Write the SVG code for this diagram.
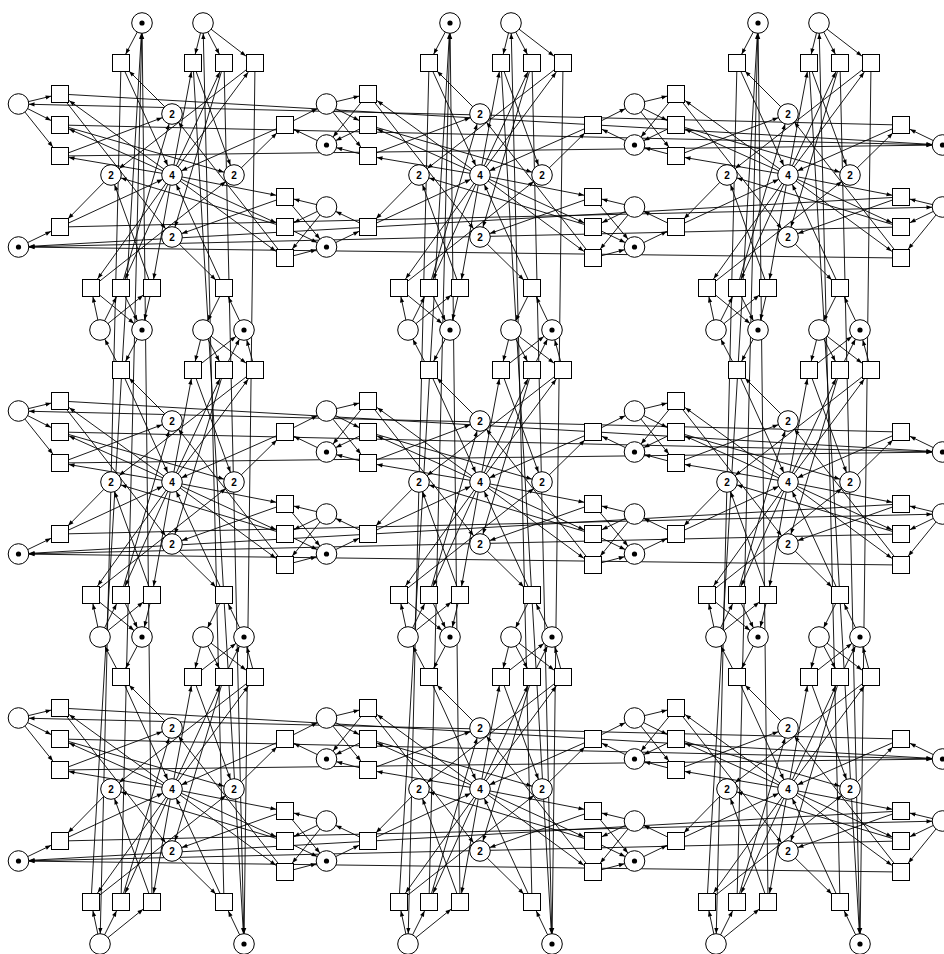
<svg xmlns="http://www.w3.org/2000/svg" width="944" height="954" viewBox="0 0 944 954">
<style>
.e path{fill:none;stroke:#000;stroke-width:0.9}
.p{marker-end:url(#mp)}
.a{marker-end:url(#ma)}
.b{marker-end:url(#mb)}
.c{marker-end:url(#mc)}
text{font-family:"Liberation Sans",Arial,sans-serif;font-size:10px;font-weight:bold;text-anchor:middle;fill:#000}
</style>
<defs>
<marker id="mp" markerUnits="userSpaceOnUse" viewBox="-20 -5 20 10" markerWidth="20" markerHeight="10" refX="0" refY="0" orient="auto"><path d="M-16,-2.1L-10.4,0L-16,2.1z" fill="#000"/></marker>
<marker id="ma" markerUnits="userSpaceOnUse" viewBox="-20 -5 20 10" markerWidth="20" markerHeight="10" refX="0" refY="0" orient="auto"><path d="M-14.6,-2.1L-9,0L-14.6,2.1z" fill="#000"/></marker>
<marker id="mb" markerUnits="userSpaceOnUse" viewBox="-20 -5 20 10" markerWidth="20" markerHeight="10" refX="0" refY="0" orient="auto"><path d="M-15.6,-2.1L-10,0L-15.6,2.1z" fill="#000"/></marker>
<marker id="mc" markerUnits="userSpaceOnUse" viewBox="-20 -5 20 10" markerWidth="20" markerHeight="10" refX="0" refY="0" orient="auto"><path d="M-17.1,-2.1L-11.5,0L-17.1,2.1z" fill="#000"/></marker>
<rect id="sq" x="-8.5" y="-8.5" width="17" height="17" fill="#fff" stroke="#000" stroke-width="1"/>
<circle id="pe" r="10.3" fill="#fff" stroke="#000" stroke-width="1"/>
<g id="pm"><circle r="10.3" fill="#fff" stroke="#000" stroke-width="1"/><circle r="2.6" fill="#000"/></g>
<g id="k" class="e">
<path class="a" d="M18.5 104L60 94"/>
<path class="b" d="M18.5 104L60 125"/>
<path class="c" d="M18.5 104L60 156"/>
<path class="b" d="M326.5 145L285 125"/>
<path class="b" d="M18.5 247L60 227"/>
<path class="a" d="M326.5 207L285 197"/>
<path class="b" d="M326.5 207L285 227"/>
<path class="c" d="M326.5 207L285 258"/>
<path class="b" d="M142 23L121 63"/>
<path class="a" d="M203 23L193 63"/>
<path class="b" d="M203 23L224 63"/>
<path class="c" d="M203 23L255 63"/>
<path class="a" d="M100 330L91 288"/>
<path class="b" d="M100 330L121 288"/>
<path class="c" d="M100 330L152 288"/>
<path class="b" d="M244 330L224 288"/>
<path class="c" d="M172 175L60 94"/>
<path class="b" d="M172 175L60 125"/>
<path class="a" d="M172 175L60 156"/>
<path class="a" d="M172 175L193 63"/>
<path class="b" d="M172 175L224 63"/>
<path class="c" d="M172 175L255 63"/>
<path class="a" d="M172 175L285 197"/>
<path class="b" d="M172 175L285 227"/>
<path class="c" d="M172 175L285 258"/>
<path class="c" d="M172 175L91 288"/>
<path class="b" d="M172 175L121 288"/>
<path class="a" d="M172 175L152 288"/>
<path class="p" d="M60 94L172 237"/>
<path class="p" d="M60 125L234 175"/>
<path class="p" d="M60 156L172 114"/>
<path class="p" d="M193 63L234 175"/>
<path class="p" d="M224 63L172 237"/>
<path class="p" d="M255 63L111 175"/>
<path class="p" d="M285 197L172 237"/>
<path class="p" d="M285 227L111 175"/>
<path class="p" d="M285 258L172 114"/>
<path class="p" d="M91 288L234 175"/>
<path class="p" d="M121 288L172 114"/>
<path class="p" d="M152 288L111 175"/>
<path class="c" d="M111 175L60 227"/>
<path class="c" d="M172 114L121 63"/>
<path class="c" d="M234 175L285 125"/>
<path class="c" d="M172 237L224 288"/>
<path class="p" d="M60 227L172 175"/>
<path class="p" d="M121 63L172 175"/>
<path class="p" d="M285 125L172 175"/>
<path class="p" d="M224 288L172 175"/>
</g>
<g id="oL" class="e">
<path class="p" d="M60 94L18.5 145"/>
<path class="p" d="M60 125L18.5 145"/>
<path class="p" d="M60 156L18.5 145"/>
<path class="p" d="M60 227L18.5 207"/>
</g>
<g id="wL" class="e">
<path class="p" d="M60 94L942.5 145"/>
<path class="p" d="M60 125L942.5 145"/>
<path class="p" d="M60 156L942.5 145"/>
<path class="p" d="M60 227L942.5 207"/>
</g>
<g id="oR" class="e">
<path class="p" d="M285 125L326.5 104"/>
<path class="p" d="M285 197L326.5 247"/>
<path class="p" d="M285 227L326.5 247"/>
<path class="p" d="M285 258L326.5 247"/>
</g>
<g id="wR" class="e">
<path class="p" d="M285 125L-597.5 104"/>
<path class="p" d="M285 197L-597.5 247"/>
<path class="p" d="M285 227L-597.5 247"/>
<path class="p" d="M285 258L-597.5 247"/>
</g>
<g id="oU" class="e">
<path class="p" d="M121 63L100 23"/>
<path class="p" d="M193 63L244 23"/>
<path class="p" d="M224 63L244 23"/>
<path class="p" d="M255 63L244 23"/>
</g>
<g id="wU" class="e">
<path class="p" d="M121 63L100 944"/>
<path class="p" d="M193 63L244 944"/>
<path class="p" d="M224 63L244 944"/>
<path class="p" d="M255 63L244 944"/>
</g>
<g id="oD" class="e">
<path class="p" d="M91 288L142 330"/>
<path class="p" d="M121 288L142 330"/>
<path class="p" d="M152 288L142 330"/>
<path class="p" d="M224 288L203 330"/>
</g>
<g id="wD" class="e">
<path class="p" d="M91 288L142 -591"/>
<path class="p" d="M121 288L142 -591"/>
<path class="p" d="M152 288L142 -591"/>
<path class="p" d="M224 288L203 -591"/>
</g>
</defs>
<rect width="944" height="954" fill="#fff"/>
<g id="connectors">
<use href="#k" transform="translate(0,0)"/>
<use href="#k" transform="translate(308,0)"/>
<use href="#k" transform="translate(616,0)"/>
<use href="#k" transform="translate(0,307)"/>
<use href="#k" transform="translate(308,307)"/>
<use href="#k" transform="translate(616,307)"/>
<use href="#k" transform="translate(0,614)"/>
<use href="#k" transform="translate(308,614)"/>
<use href="#k" transform="translate(616,614)"/>
<use href="#wL" transform="translate(0,0)"/>
<use href="#wL" transform="translate(0,307)"/>
<use href="#wL" transform="translate(0,614)"/>
<use href="#oL" transform="translate(308,0)"/>
<use href="#oL" transform="translate(616,0)"/>
<use href="#oL" transform="translate(308,307)"/>
<use href="#oL" transform="translate(616,307)"/>
<use href="#oL" transform="translate(308,614)"/>
<use href="#oL" transform="translate(616,614)"/>
<use href="#oR" transform="translate(0,0)"/>
<use href="#oR" transform="translate(308,0)"/>
<use href="#oR" transform="translate(0,307)"/>
<use href="#oR" transform="translate(308,307)"/>
<use href="#oR" transform="translate(0,614)"/>
<use href="#oR" transform="translate(308,614)"/>
<use href="#wR" transform="translate(616,0)"/>
<use href="#wR" transform="translate(616,307)"/>
<use href="#wR" transform="translate(616,614)"/>
<use href="#wU" transform="translate(0,0)"/>
<use href="#wU" transform="translate(308,0)"/>
<use href="#wU" transform="translate(616,0)"/>
<use href="#oU" transform="translate(0,307)"/>
<use href="#oU" transform="translate(308,307)"/>
<use href="#oU" transform="translate(616,307)"/>
<use href="#oU" transform="translate(0,614)"/>
<use href="#oU" transform="translate(308,614)"/>
<use href="#oU" transform="translate(616,614)"/>
<use href="#oD" transform="translate(0,0)"/>
<use href="#oD" transform="translate(308,0)"/>
<use href="#oD" transform="translate(616,0)"/>
<use href="#oD" transform="translate(0,307)"/>
<use href="#oD" transform="translate(308,307)"/>
<use href="#oD" transform="translate(616,307)"/>
<use href="#wD" transform="translate(0,614)"/>
<use href="#wD" transform="translate(308,614)"/>
<use href="#wD" transform="translate(616,614)"/>
</g>
<g id="cell-0-0" transform="translate(0,0)">
<g id="n00-R1"><use href="#sq" x="60" y="94"/></g><g id="n00-R2"><use href="#sq" x="60" y="125"/></g><g id="n00-R3"><use href="#sq" x="60" y="156"/></g><g id="n00-R4"><use href="#sq" x="60" y="227"/></g>
<g id="n00-L1"><use href="#sq" x="285" y="125"/></g><g id="n00-L2"><use href="#sq" x="285" y="197"/></g><g id="n00-L3"><use href="#sq" x="285" y="227"/></g><g id="n00-L4"><use href="#sq" x="285" y="258"/></g>
<g id="n00-T1"><use href="#sq" x="121" y="63"/></g><g id="n00-T2"><use href="#sq" x="193" y="63"/></g><g id="n00-T3"><use href="#sq" x="224" y="63"/></g><g id="n00-T4"><use href="#sq" x="255" y="63"/></g>
<g id="n00-B1"><use href="#sq" x="91" y="288"/></g><g id="n00-B2"><use href="#sq" x="121" y="288"/></g><g id="n00-B3"><use href="#sq" x="152" y="288"/></g><g id="n00-B4"><use href="#sq" x="224" y="288"/></g>
<g id="n00-P4"><use href="#pe" x="172" y="175"/><text x="172" y="178.6">4</text></g>
<g id="n00-Pt"><use href="#pe" x="172" y="114"/><text x="172" y="117.6">2</text></g>
<g id="n00-Pl"><use href="#pe" x="111" y="175"/><text x="111" y="178.6">2</text></g>
<g id="n00-Pr"><use href="#pe" x="234" y="175"/><text x="234" y="178.6">2</text></g>
<g id="n00-Pb"><use href="#pe" x="172" y="237"/><text x="172" y="240.6">2</text></g>
<g id="n00-A"><use href="#pe" x="18.5" y="104"/></g><g id="n00-B"><use href="#pm" x="18.5" y="247"/></g><g id="n00-C"><use href="#pm" x="326.5" y="145"/></g><g id="n00-D"><use href="#pe" x="326.5" y="207"/></g>
<g id="n00-E"><use href="#pm" x="142" y="23"/></g><g id="n00-F"><use href="#pe" x="203" y="23"/></g><g id="n00-G"><use href="#pe" x="100" y="330"/></g><g id="n00-H"><use href="#pm" x="244" y="330"/></g>
</g>
<g id="cell-0-1" transform="translate(308,0)">
<g id="n01-R1"><use href="#sq" x="60" y="94"/></g><g id="n01-R2"><use href="#sq" x="60" y="125"/></g><g id="n01-R3"><use href="#sq" x="60" y="156"/></g><g id="n01-R4"><use href="#sq" x="60" y="227"/></g>
<g id="n01-L1"><use href="#sq" x="285" y="125"/></g><g id="n01-L2"><use href="#sq" x="285" y="197"/></g><g id="n01-L3"><use href="#sq" x="285" y="227"/></g><g id="n01-L4"><use href="#sq" x="285" y="258"/></g>
<g id="n01-T1"><use href="#sq" x="121" y="63"/></g><g id="n01-T2"><use href="#sq" x="193" y="63"/></g><g id="n01-T3"><use href="#sq" x="224" y="63"/></g><g id="n01-T4"><use href="#sq" x="255" y="63"/></g>
<g id="n01-B1"><use href="#sq" x="91" y="288"/></g><g id="n01-B2"><use href="#sq" x="121" y="288"/></g><g id="n01-B3"><use href="#sq" x="152" y="288"/></g><g id="n01-B4"><use href="#sq" x="224" y="288"/></g>
<g id="n01-P4"><use href="#pe" x="172" y="175"/><text x="172" y="178.6">4</text></g>
<g id="n01-Pt"><use href="#pe" x="172" y="114"/><text x="172" y="117.6">2</text></g>
<g id="n01-Pl"><use href="#pe" x="111" y="175"/><text x="111" y="178.6">2</text></g>
<g id="n01-Pr"><use href="#pe" x="234" y="175"/><text x="234" y="178.6">2</text></g>
<g id="n01-Pb"><use href="#pe" x="172" y="237"/><text x="172" y="240.6">2</text></g>
<g id="n01-A"><use href="#pe" x="18.5" y="104"/></g><g id="n01-B"><use href="#pm" x="18.5" y="247"/></g><g id="n01-C"><use href="#pm" x="326.5" y="145"/></g><g id="n01-D"><use href="#pe" x="326.5" y="207"/></g>
<g id="n01-E"><use href="#pm" x="142" y="23"/></g><g id="n01-F"><use href="#pe" x="203" y="23"/></g><g id="n01-G"><use href="#pe" x="100" y="330"/></g><g id="n01-H"><use href="#pm" x="244" y="330"/></g>
</g>
<g id="cell-0-2" transform="translate(616,0)">
<g id="n02-R1"><use href="#sq" x="60" y="94"/></g><g id="n02-R2"><use href="#sq" x="60" y="125"/></g><g id="n02-R3"><use href="#sq" x="60" y="156"/></g><g id="n02-R4"><use href="#sq" x="60" y="227"/></g>
<g id="n02-L1"><use href="#sq" x="285" y="125"/></g><g id="n02-L2"><use href="#sq" x="285" y="197"/></g><g id="n02-L3"><use href="#sq" x="285" y="227"/></g><g id="n02-L4"><use href="#sq" x="285" y="258"/></g>
<g id="n02-T1"><use href="#sq" x="121" y="63"/></g><g id="n02-T2"><use href="#sq" x="193" y="63"/></g><g id="n02-T3"><use href="#sq" x="224" y="63"/></g><g id="n02-T4"><use href="#sq" x="255" y="63"/></g>
<g id="n02-B1"><use href="#sq" x="91" y="288"/></g><g id="n02-B2"><use href="#sq" x="121" y="288"/></g><g id="n02-B3"><use href="#sq" x="152" y="288"/></g><g id="n02-B4"><use href="#sq" x="224" y="288"/></g>
<g id="n02-P4"><use href="#pe" x="172" y="175"/><text x="172" y="178.6">4</text></g>
<g id="n02-Pt"><use href="#pe" x="172" y="114"/><text x="172" y="117.6">2</text></g>
<g id="n02-Pl"><use href="#pe" x="111" y="175"/><text x="111" y="178.6">2</text></g>
<g id="n02-Pr"><use href="#pe" x="234" y="175"/><text x="234" y="178.6">2</text></g>
<g id="n02-Pb"><use href="#pe" x="172" y="237"/><text x="172" y="240.6">2</text></g>
<g id="n02-A"><use href="#pe" x="18.5" y="104"/></g><g id="n02-B"><use href="#pm" x="18.5" y="247"/></g><g id="n02-C"><use href="#pm" x="326.5" y="145"/></g><g id="n02-D"><use href="#pe" x="326.5" y="207"/></g>
<g id="n02-E"><use href="#pm" x="142" y="23"/></g><g id="n02-F"><use href="#pe" x="203" y="23"/></g><g id="n02-G"><use href="#pe" x="100" y="330"/></g><g id="n02-H"><use href="#pm" x="244" y="330"/></g>
</g>
<g id="cell-1-0" transform="translate(0,307)">
<g id="n10-R1"><use href="#sq" x="60" y="94"/></g><g id="n10-R2"><use href="#sq" x="60" y="125"/></g><g id="n10-R3"><use href="#sq" x="60" y="156"/></g><g id="n10-R4"><use href="#sq" x="60" y="227"/></g>
<g id="n10-L1"><use href="#sq" x="285" y="125"/></g><g id="n10-L2"><use href="#sq" x="285" y="197"/></g><g id="n10-L3"><use href="#sq" x="285" y="227"/></g><g id="n10-L4"><use href="#sq" x="285" y="258"/></g>
<g id="n10-T1"><use href="#sq" x="121" y="63"/></g><g id="n10-T2"><use href="#sq" x="193" y="63"/></g><g id="n10-T3"><use href="#sq" x="224" y="63"/></g><g id="n10-T4"><use href="#sq" x="255" y="63"/></g>
<g id="n10-B1"><use href="#sq" x="91" y="288"/></g><g id="n10-B2"><use href="#sq" x="121" y="288"/></g><g id="n10-B3"><use href="#sq" x="152" y="288"/></g><g id="n10-B4"><use href="#sq" x="224" y="288"/></g>
<g id="n10-P4"><use href="#pe" x="172" y="175"/><text x="172" y="178.6">4</text></g>
<g id="n10-Pt"><use href="#pe" x="172" y="114"/><text x="172" y="117.6">2</text></g>
<g id="n10-Pl"><use href="#pe" x="111" y="175"/><text x="111" y="178.6">2</text></g>
<g id="n10-Pr"><use href="#pe" x="234" y="175"/><text x="234" y="178.6">2</text></g>
<g id="n10-Pb"><use href="#pe" x="172" y="237"/><text x="172" y="240.6">2</text></g>
<g id="n10-A"><use href="#pe" x="18.5" y="104"/></g><g id="n10-B"><use href="#pm" x="18.5" y="247"/></g><g id="n10-C"><use href="#pm" x="326.5" y="145"/></g><g id="n10-D"><use href="#pe" x="326.5" y="207"/></g>
<g id="n10-E"><use href="#pm" x="142" y="23"/></g><g id="n10-F"><use href="#pe" x="203" y="23"/></g><g id="n10-G"><use href="#pe" x="100" y="330"/></g><g id="n10-H"><use href="#pm" x="244" y="330"/></g>
</g>
<g id="cell-1-1" transform="translate(308,307)">
<g id="n11-R1"><use href="#sq" x="60" y="94"/></g><g id="n11-R2"><use href="#sq" x="60" y="125"/></g><g id="n11-R3"><use href="#sq" x="60" y="156"/></g><g id="n11-R4"><use href="#sq" x="60" y="227"/></g>
<g id="n11-L1"><use href="#sq" x="285" y="125"/></g><g id="n11-L2"><use href="#sq" x="285" y="197"/></g><g id="n11-L3"><use href="#sq" x="285" y="227"/></g><g id="n11-L4"><use href="#sq" x="285" y="258"/></g>
<g id="n11-T1"><use href="#sq" x="121" y="63"/></g><g id="n11-T2"><use href="#sq" x="193" y="63"/></g><g id="n11-T3"><use href="#sq" x="224" y="63"/></g><g id="n11-T4"><use href="#sq" x="255" y="63"/></g>
<g id="n11-B1"><use href="#sq" x="91" y="288"/></g><g id="n11-B2"><use href="#sq" x="121" y="288"/></g><g id="n11-B3"><use href="#sq" x="152" y="288"/></g><g id="n11-B4"><use href="#sq" x="224" y="288"/></g>
<g id="n11-P4"><use href="#pe" x="172" y="175"/><text x="172" y="178.6">4</text></g>
<g id="n11-Pt"><use href="#pe" x="172" y="114"/><text x="172" y="117.6">2</text></g>
<g id="n11-Pl"><use href="#pe" x="111" y="175"/><text x="111" y="178.6">2</text></g>
<g id="n11-Pr"><use href="#pe" x="234" y="175"/><text x="234" y="178.6">2</text></g>
<g id="n11-Pb"><use href="#pe" x="172" y="237"/><text x="172" y="240.6">2</text></g>
<g id="n11-A"><use href="#pe" x="18.5" y="104"/></g><g id="n11-B"><use href="#pm" x="18.5" y="247"/></g><g id="n11-C"><use href="#pm" x="326.5" y="145"/></g><g id="n11-D"><use href="#pe" x="326.5" y="207"/></g>
<g id="n11-E"><use href="#pm" x="142" y="23"/></g><g id="n11-F"><use href="#pe" x="203" y="23"/></g><g id="n11-G"><use href="#pe" x="100" y="330"/></g><g id="n11-H"><use href="#pm" x="244" y="330"/></g>
</g>
<g id="cell-1-2" transform="translate(616,307)">
<g id="n12-R1"><use href="#sq" x="60" y="94"/></g><g id="n12-R2"><use href="#sq" x="60" y="125"/></g><g id="n12-R3"><use href="#sq" x="60" y="156"/></g><g id="n12-R4"><use href="#sq" x="60" y="227"/></g>
<g id="n12-L1"><use href="#sq" x="285" y="125"/></g><g id="n12-L2"><use href="#sq" x="285" y="197"/></g><g id="n12-L3"><use href="#sq" x="285" y="227"/></g><g id="n12-L4"><use href="#sq" x="285" y="258"/></g>
<g id="n12-T1"><use href="#sq" x="121" y="63"/></g><g id="n12-T2"><use href="#sq" x="193" y="63"/></g><g id="n12-T3"><use href="#sq" x="224" y="63"/></g><g id="n12-T4"><use href="#sq" x="255" y="63"/></g>
<g id="n12-B1"><use href="#sq" x="91" y="288"/></g><g id="n12-B2"><use href="#sq" x="121" y="288"/></g><g id="n12-B3"><use href="#sq" x="152" y="288"/></g><g id="n12-B4"><use href="#sq" x="224" y="288"/></g>
<g id="n12-P4"><use href="#pe" x="172" y="175"/><text x="172" y="178.6">4</text></g>
<g id="n12-Pt"><use href="#pe" x="172" y="114"/><text x="172" y="117.6">2</text></g>
<g id="n12-Pl"><use href="#pe" x="111" y="175"/><text x="111" y="178.6">2</text></g>
<g id="n12-Pr"><use href="#pe" x="234" y="175"/><text x="234" y="178.6">2</text></g>
<g id="n12-Pb"><use href="#pe" x="172" y="237"/><text x="172" y="240.6">2</text></g>
<g id="n12-A"><use href="#pe" x="18.5" y="104"/></g><g id="n12-B"><use href="#pm" x="18.5" y="247"/></g><g id="n12-C"><use href="#pm" x="326.5" y="145"/></g><g id="n12-D"><use href="#pe" x="326.5" y="207"/></g>
<g id="n12-E"><use href="#pm" x="142" y="23"/></g><g id="n12-F"><use href="#pe" x="203" y="23"/></g><g id="n12-G"><use href="#pe" x="100" y="330"/></g><g id="n12-H"><use href="#pm" x="244" y="330"/></g>
</g>
<g id="cell-2-0" transform="translate(0,614)">
<g id="n20-R1"><use href="#sq" x="60" y="94"/></g><g id="n20-R2"><use href="#sq" x="60" y="125"/></g><g id="n20-R3"><use href="#sq" x="60" y="156"/></g><g id="n20-R4"><use href="#sq" x="60" y="227"/></g>
<g id="n20-L1"><use href="#sq" x="285" y="125"/></g><g id="n20-L2"><use href="#sq" x="285" y="197"/></g><g id="n20-L3"><use href="#sq" x="285" y="227"/></g><g id="n20-L4"><use href="#sq" x="285" y="258"/></g>
<g id="n20-T1"><use href="#sq" x="121" y="63"/></g><g id="n20-T2"><use href="#sq" x="193" y="63"/></g><g id="n20-T3"><use href="#sq" x="224" y="63"/></g><g id="n20-T4"><use href="#sq" x="255" y="63"/></g>
<g id="n20-B1"><use href="#sq" x="91" y="288"/></g><g id="n20-B2"><use href="#sq" x="121" y="288"/></g><g id="n20-B3"><use href="#sq" x="152" y="288"/></g><g id="n20-B4"><use href="#sq" x="224" y="288"/></g>
<g id="n20-P4"><use href="#pe" x="172" y="175"/><text x="172" y="178.6">4</text></g>
<g id="n20-Pt"><use href="#pe" x="172" y="114"/><text x="172" y="117.6">2</text></g>
<g id="n20-Pl"><use href="#pe" x="111" y="175"/><text x="111" y="178.6">2</text></g>
<g id="n20-Pr"><use href="#pe" x="234" y="175"/><text x="234" y="178.6">2</text></g>
<g id="n20-Pb"><use href="#pe" x="172" y="237"/><text x="172" y="240.6">2</text></g>
<g id="n20-A"><use href="#pe" x="18.5" y="104"/></g><g id="n20-B"><use href="#pm" x="18.5" y="247"/></g><g id="n20-C"><use href="#pm" x="326.5" y="145"/></g><g id="n20-D"><use href="#pe" x="326.5" y="207"/></g>
<g id="n20-E"><use href="#pm" x="142" y="23"/></g><g id="n20-F"><use href="#pe" x="203" y="23"/></g><g id="n20-G"><use href="#pe" x="100" y="330"/></g><g id="n20-H"><use href="#pm" x="244" y="330"/></g>
</g>
<g id="cell-2-1" transform="translate(308,614)">
<g id="n21-R1"><use href="#sq" x="60" y="94"/></g><g id="n21-R2"><use href="#sq" x="60" y="125"/></g><g id="n21-R3"><use href="#sq" x="60" y="156"/></g><g id="n21-R4"><use href="#sq" x="60" y="227"/></g>
<g id="n21-L1"><use href="#sq" x="285" y="125"/></g><g id="n21-L2"><use href="#sq" x="285" y="197"/></g><g id="n21-L3"><use href="#sq" x="285" y="227"/></g><g id="n21-L4"><use href="#sq" x="285" y="258"/></g>
<g id="n21-T1"><use href="#sq" x="121" y="63"/></g><g id="n21-T2"><use href="#sq" x="193" y="63"/></g><g id="n21-T3"><use href="#sq" x="224" y="63"/></g><g id="n21-T4"><use href="#sq" x="255" y="63"/></g>
<g id="n21-B1"><use href="#sq" x="91" y="288"/></g><g id="n21-B2"><use href="#sq" x="121" y="288"/></g><g id="n21-B3"><use href="#sq" x="152" y="288"/></g><g id="n21-B4"><use href="#sq" x="224" y="288"/></g>
<g id="n21-P4"><use href="#pe" x="172" y="175"/><text x="172" y="178.6">4</text></g>
<g id="n21-Pt"><use href="#pe" x="172" y="114"/><text x="172" y="117.6">2</text></g>
<g id="n21-Pl"><use href="#pe" x="111" y="175"/><text x="111" y="178.6">2</text></g>
<g id="n21-Pr"><use href="#pe" x="234" y="175"/><text x="234" y="178.6">2</text></g>
<g id="n21-Pb"><use href="#pe" x="172" y="237"/><text x="172" y="240.6">2</text></g>
<g id="n21-A"><use href="#pe" x="18.5" y="104"/></g><g id="n21-B"><use href="#pm" x="18.5" y="247"/></g><g id="n21-C"><use href="#pm" x="326.5" y="145"/></g><g id="n21-D"><use href="#pe" x="326.5" y="207"/></g>
<g id="n21-E"><use href="#pm" x="142" y="23"/></g><g id="n21-F"><use href="#pe" x="203" y="23"/></g><g id="n21-G"><use href="#pe" x="100" y="330"/></g><g id="n21-H"><use href="#pm" x="244" y="330"/></g>
</g>
<g id="cell-2-2" transform="translate(616,614)">
<g id="n22-R1"><use href="#sq" x="60" y="94"/></g><g id="n22-R2"><use href="#sq" x="60" y="125"/></g><g id="n22-R3"><use href="#sq" x="60" y="156"/></g><g id="n22-R4"><use href="#sq" x="60" y="227"/></g>
<g id="n22-L1"><use href="#sq" x="285" y="125"/></g><g id="n22-L2"><use href="#sq" x="285" y="197"/></g><g id="n22-L3"><use href="#sq" x="285" y="227"/></g><g id="n22-L4"><use href="#sq" x="285" y="258"/></g>
<g id="n22-T1"><use href="#sq" x="121" y="63"/></g><g id="n22-T2"><use href="#sq" x="193" y="63"/></g><g id="n22-T3"><use href="#sq" x="224" y="63"/></g><g id="n22-T4"><use href="#sq" x="255" y="63"/></g>
<g id="n22-B1"><use href="#sq" x="91" y="288"/></g><g id="n22-B2"><use href="#sq" x="121" y="288"/></g><g id="n22-B3"><use href="#sq" x="152" y="288"/></g><g id="n22-B4"><use href="#sq" x="224" y="288"/></g>
<g id="n22-P4"><use href="#pe" x="172" y="175"/><text x="172" y="178.6">4</text></g>
<g id="n22-Pt"><use href="#pe" x="172" y="114"/><text x="172" y="117.6">2</text></g>
<g id="n22-Pl"><use href="#pe" x="111" y="175"/><text x="111" y="178.6">2</text></g>
<g id="n22-Pr"><use href="#pe" x="234" y="175"/><text x="234" y="178.6">2</text></g>
<g id="n22-Pb"><use href="#pe" x="172" y="237"/><text x="172" y="240.6">2</text></g>
<g id="n22-A"><use href="#pe" x="18.5" y="104"/></g><g id="n22-B"><use href="#pm" x="18.5" y="247"/></g><g id="n22-C"><use href="#pm" x="326.5" y="145"/></g><g id="n22-D"><use href="#pe" x="326.5" y="207"/></g>
<g id="n22-E"><use href="#pm" x="142" y="23"/></g><g id="n22-F"><use href="#pe" x="203" y="23"/></g><g id="n22-G"><use href="#pe" x="100" y="330"/></g><g id="n22-H"><use href="#pm" x="244" y="330"/></g>
</g>
</svg>
